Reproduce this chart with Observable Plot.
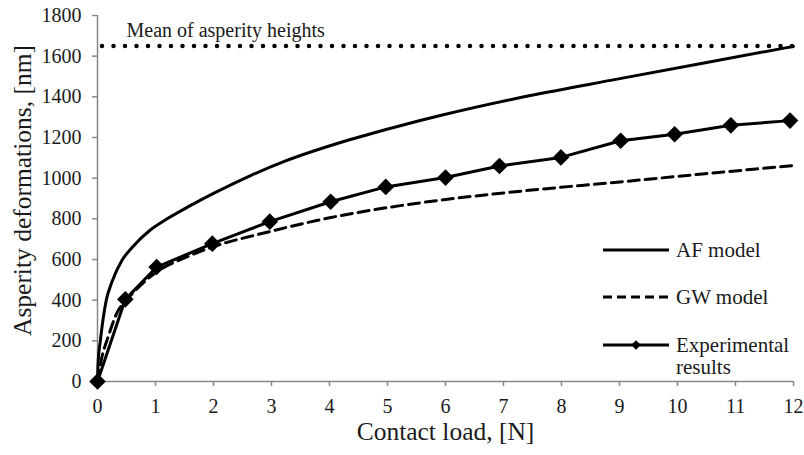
<!DOCTYPE html>
<html>
<head>
<meta charset="utf-8">
<script src="https://cdn.jsdelivr.net/npm/d3@7"></script>
<script src="https://cdn.jsdelivr.net/npm/@observablehq/plot@0.6"></script>
<style>
  html, body { margin: 0; padding: 0; background: #fff; }
</style>
</head>
<body>
<div id="chart"></div>
<script>
// ---- Data ----
const xTicks = [0, 1, 2, 3, 4, 5, 6, 7, 8, 9, 10, 11, 12];
const yTicks = [0, 200, 400, 600, 800, 1000, 1200, 1400, 1600, 1800];

// AF model (solid curve)
const afLoad   = [0, 0.01, 0.05, 0.15, 0.25, 0.42, 0.6, 0.91, 1.2, 1.6, 2, 2.64, 3.2, 4.36, 5.22, 5.91, 7.44, 8.96, 10.48, 12];
const afDeform = [0, 90, 202, 398, 490, 595, 660, 745, 800, 865, 925, 1013, 1080, 1190, 1258, 1308, 1405, 1487, 1568, 1648];

// GW model (dashed curve)
const gwLoad   = [0, 0.05, 0.19, 0.34, 0.5, 0.75, 1, 1.5, 2, 2.98, 4, 5.22, 5.97, 7.44, 8.96, 10.48, 12];
const gwDeform = [0, 85, 225, 340, 400, 475, 535, 608, 663, 738, 805, 865, 894, 940, 980, 1022, 1062];

// Experimental results (diamonds)
const expLoad   = [0, 0.48, 1.02, 1.98, 2.97, 4.02, 4.97, 6.0, 6.93, 7.99, 9.02, 9.95, 10.92, 11.94];
const expDeform = [0, 404, 563, 678, 786, 884, 957, 1003, 1060, 1102, 1184, 1216, 1260, 1283];

// Mean of asperity heights
const meanHeight = 1650;
const meanLabel = "Mean of asperity heights";
const meanLabelLoad = 0.5;

const xLabel = "Contact load, [N]";
const yLabel = "Asperity deformations, [nm]";
const legendItems = ["AF model", "GW model", "Experimental|results"];

// ---- Build tables ----
const af = afLoad.map((x, i) => ({x, y: afDeform[i]}));
const gw = gwLoad.map((x, i) => ({x, y: gwDeform[i]}));
const ex = expLoad.map((x, i) => ({x, y: expDeform[i]}));

const FONT = '"Liberation Serif", "Times New Roman", serif';
const W = 804, H = 455;

const chart = Plot.plot({
  width: W,
  height: H,
  marginLeft: 97,
  marginRight: 11,
  marginTop: 15,
  marginBottom: 74,
  style: {fontFamily: FONT, fontSize: "20px", color: "#1a1a1a", background: "#fff"},
  x: {domain: [0, 12]},
  y: {domain: [0, 1800]},
  marks: [
    Plot.axisX({ticks: xTicks, tickSize: 5, tickPadding: 12, stroke: "#888", strokeWidth: 1.5, label: null, fontSize: 20, tickFormat: d => String(d)}),
    Plot.axisY({ticks: yTicks, tickSize: 5, tickPadding: 11, stroke: "#888", strokeWidth: 1.5, label: null, fontSize: 20, tickFormat: d => String(d)}),
    Plot.ruleY([0], {stroke: "#888", strokeWidth: 1.5}),
    Plot.ruleX([0], {stroke: "#888", strokeWidth: 1.5}),
    Plot.ruleY([meanHeight], {stroke: "#000", strokeWidth: 4.5, strokeLinecap: "round", strokeDasharray: "0 11.5", strokeDashoffset: 6.5}),
    Plot.text([meanLabel], {x: meanLabelLoad, y: meanHeight, text: d => d, textAnchor: "start", dy: -15, fontSize: 20, fill: "#1a1a1a"}),
    Plot.line(gw, {x: "x", y: "y", stroke: "#000", strokeWidth: 3, strokeDasharray: "11 6", curve: "monotone-x"}),
    Plot.line(af, {x: "x", y: "y", stroke: "#000", strokeWidth: 3, curve: "monotone-x"}),
    Plot.line(ex, {x: "x", y: "y", stroke: "#000", strokeWidth: 3}),
    Plot.dot(ex, {x: "x", y: "y", symbol: "diamond2", r: 7.5, fill: "#000", stroke: "none"}),
    Plot.text([xLabel], {frameAnchor: "bottom", text: d => d, dy: 58, fontSize: 25.5, fill: "#1a1a1a"}),
    Plot.text([yLabel], {frameAnchor: "left", text: d => d, rotate: -90, textAnchor: "middle", dx: -75, dy: -8, fontSize: 25.5, fill: "#1a1a1a"})
  ]
});

document.getElementById("chart").appendChild(chart);

// ---- Legend (layout overlay) ----
const svg = d3.select(chart.tagName.toLowerCase() === "svg" ? chart : chart.querySelector("svg"));
const lg = svg.append("g").attr("font-family", FONT).attr("font-size", 21).attr("fill", "#1a1a1a").attr("text-anchor", "start");
const styles = [
  {dash: null, marker: false},
  {dash: "9 5", marker: false},
  {dash: null, marker: true}
];
const rowY = [250, 297, 345];
legendItems.forEach((label, i) => {
  const y = rowY[i];
  lg.append("line").attr("x1", 603).attr("x2", 669).attr("y1", y).attr("y2", y)
    .attr("stroke", "#000").attr("stroke-width", 3)
    .attr("stroke-dasharray", styles[i].dash);
  if (styles[i].marker) {
    lg.append("path").attr("d", d3.symbol(d3.symbolDiamond2, 60)()).attr("transform", `translate(636,${y})`).attr("fill", "#000");
  }
  const lines = label.split("|");
  lines.forEach((t, j) => {
    lg.append("text").attr("x", 676).attr("y", y + 6.5 + j * 22.5).attr("text-anchor", "start").text(t);
  });
});
</script>
</body>
</html>
